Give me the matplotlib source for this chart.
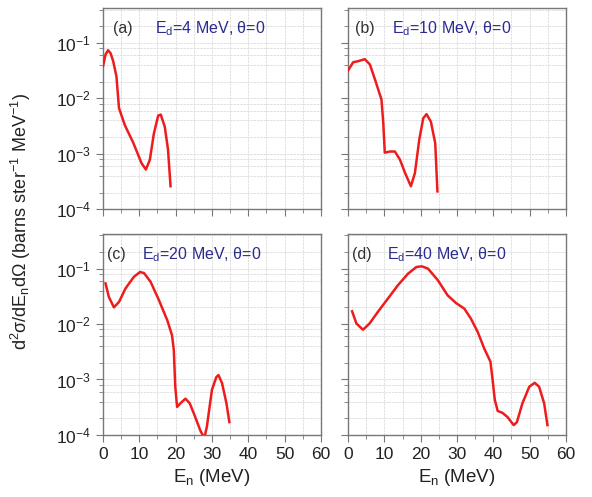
import numpy as np
import matplotlib
matplotlib.use('Agg')
import matplotlib.pyplot as plt
from matplotlib.ticker import LogLocator, MultipleLocator, NullFormatter, FixedLocator

plt.rcParams['font.family'] = ['Liberation Sans', 'DejaVu Sans']
plt.rcParams['mathtext.fontset'] = 'custom'
plt.rcParams['mathtext.rm'] = 'Liberation Sans'
plt.rcParams['mathtext.it'] = 'Liberation Sans'
plt.rcParams['mathtext.sf'] = 'Liberation Sans'

# --- data ---
en_a = [0, 0.7, 1.4, 2.1, 2.8, 3.7, 4.4, 6, 8.3, 10.6, 11.8, 12.9, 14, 15.2, 15.9, 17, 17.9, 18.6]
sig_a = [0.038, 0.062, 0.074, 0.065, 0.047, 0.025, 0.0067, 0.0033, 0.0016, 6.8e-4, 5.2e-4, 7.8e-4,
         0.0023, 0.0049, 0.0051, 0.0031, 0.0012, 2.6e-4]

en_b = [0, 1.4, 2.8, 4.6, 6, 7.4, 9.2, 9.7, 10.1, 11.5, 12.9, 14.3, 15.7, 17.3, 18.4,
        19.6, 20.7, 21.6, 22.8, 24.0, 24.6]
sig_b = [0.032, 0.045, 0.047, 0.051, 0.041, 0.022, 0.0095, 0.0035, 0.00105, 0.0011,
         0.0011, 7.8e-4, 4.5e-4, 2.6e-4, 4.5e-4, 0.0018, 0.0044, 0.0052, 0.0038, 0.00155, 2.1e-4]

en_c = [0.7, 1.6, 3.0, 4.4, 6.2, 8.5, 10.2, 11.3, 13.1, 15.4, 17.7, 19.0, 19.5, 19.9, 20.4,
        21.3, 22.7, 23.9, 25.4, 26.8, 27.9, 28.6, 30.0, 31.2, 31.8, 32.8, 34.0, 34.8]
sig_c = [0.054, 0.031, 0.020, 0.025, 0.044, 0.071, 0.087, 0.083, 0.058, 0.027, 0.0117,
         0.0063, 0.0034, 7.4e-4, 3.2e-4, 3.7e-4, 4.5e-4, 3.7e-4, 2.1e-4, 1.2e-4, 8.7e-5,
         1.4e-4, 6.5e-4, 0.0011, 0.0012, 8.5e-4, 3.7e-4, 1.7e-4]

en_d = [1.1, 2.3, 4.1, 5.9, 8.2, 11, 13.7, 16.5, 18.8, 20.3, 22.0, 24.7, 27.4, 29.7, 32.0,
        33.8, 35.7, 37.5, 39.2, 39.8, 40.4, 41.2, 42.5, 43.9, 45.6, 46.5, 48.0, 49.9, 51.4,
        52.6, 54.0, 54.9]
sig_d = [0.017, 0.0102, 0.0079, 0.0102, 0.0166, 0.029, 0.050, 0.081, 0.107, 0.110, 0.100,
         0.062, 0.033, 0.024, 0.019, 0.0126, 0.0072, 0.0036, 0.0021, 9.8e-4, 4.3e-4, 2.7e-4,
         2.5e-4, 2.1e-4, 1.5e-4, 1.7e-4, 3.7e-4, 7.4e-4, 8.7e-4, 7.4e-4, 3.7e-4, 1.5e-4]

panels = [
    ('(a)', 'E$_\\mathrm{d}$=4 MeV, θ=0', en_a, sig_a, 0.045, 0.24),
    ('(b)', 'E$_\\mathrm{d}$=10 MeV, θ=0', en_b, sig_b, 0.03, 0.20),
    ('(c)', 'E$_\\mathrm{d}$=20 MeV, θ=0', en_c, sig_c, 0.02, 0.18),
    ('(d)', 'E$_\\mathrm{d}$=40 MeV, θ=0', en_d, sig_d, 0.02, 0.18),
]
xticks = [0, 10, 20, 30, 40, 50, 60]

fig = plt.figure(figsize=(5.92, 4.97), dpi=100)
pos = [(0.174, 0.579), (0.588, 0.579), (0.174, 0.125), (0.588, 0.125)]
axw, axh = 0.368, 0.404

for i, (tag, txt, x, y, tx, ex) in enumerate(panels):
    ax = fig.add_axes([pos[i][0], pos[i][1], axw, axh])
    ax.set_yscale('log')
    ax.set_xlim(0, 60)
    ax.set_ylim(1e-4, 0.42)
    ax.plot(x, y, color='#ee1c1c', lw=1.8, zorder=3)

    ax.xaxis.set_major_locator(FixedLocator(xticks))
    ax.xaxis.set_minor_locator(MultipleLocator(5))
    ax.yaxis.set_major_locator(LogLocator(base=10, numticks=10))
    ax.yaxis.set_minor_locator(LogLocator(base=10, subs=(2, 4, 6, 8), numticks=10))
    ax.yaxis.set_minor_formatter(NullFormatter())
    ax.grid(True, which='both', color='#dcdcdc', lw=0.6, ls=(0, (3, 1)))
    ax.set_axisbelow(True)

    for s in ax.spines.values():
        s.set_color('#777777')
        s.set_linewidth(1.0)
    ax.tick_params(which='both', direction='out', colors='#777777', labelcolor='#222222',
                   labelsize=12.5)
    ax.tick_params(which='major', length=5)
    ax.tick_params(which='minor', length=3)

    if i < 2:
        ax.tick_params(labelbottom=False)
    else:
        ax.set_xticklabels([str(v) for v in xticks])
        ax.set_xlabel('E$_\\mathrm{n}$ (MeV)', fontsize=13.5, color='#222222', labelpad=4)
    if i % 2 == 1:
        ax.tick_params(labelleft=False)

    ax.text(tx, 0.9, tag, transform=ax.transAxes, fontsize=11.5, color='#333333',
            va='center', ha='left')
    ax.text(ex, 0.9, txt, transform=ax.transAxes, fontsize=11.5, color='#2b2b8f',
            va='center', ha='left')

fig.text(0.035, 0.555, 'd$^\\mathrm{2}$σ/dE$_\\mathrm{n}$dΩ (barns ster$^{-1}$ MeV$^{-1}$)',
         rotation=90, ha='center', va='center', fontsize=13, color='#222222')

fig.savefig('out.png', dpi=100)
